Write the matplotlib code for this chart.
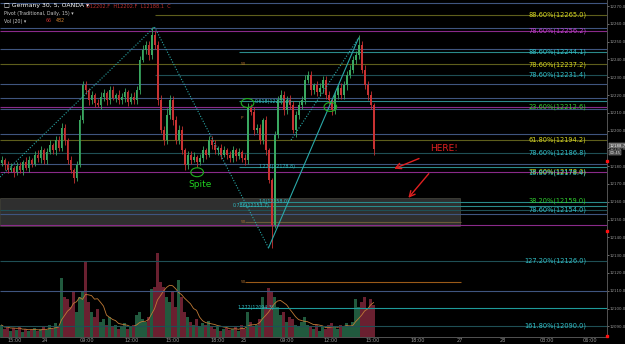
import numpy as np
import pandas as pd
import matplotlib
matplotlib.use("Agg")
import matplotlib.pyplot as plt
from matplotlib.patches import Ellipse, Rectangle

# 5-minute candles, Germany 30
first_open = 12182.0
closes = [
    12183.5, 12180.7, 12177.9, 12179.0, 12176.8, 12180.1, 12177.9, 12182.4, 12179.0, 12183.5,
    12181.3, 12186.3, 12184.6, 12189.1, 12183.5, 12188.0, 12191.9, 12189.1, 12194.7, 12190.3,
    12201.5, 12194.7, 12183.5, 12177.9, 12173.4, 12180.7, 12206.0, 12225.6, 12222.8, 12217.2,
    12220.0, 12215.5, 12214.4, 12218.9, 12221.2, 12217.2, 12222.8, 12218.3, 12220.0, 12217.2,
    12218.9, 12221.7, 12216.1, 12218.9, 12217.2, 12222.8, 12239.7, 12245.3, 12248.1, 12242.5,
    12253.7, 12248.1, 12217.2, 12200.4, 12194.7, 12208.8, 12217.2, 12206.0, 12194.7, 12200.4,
    12189.1, 12180.7, 12186.3, 12183.5, 12185.2, 12182.4, 12184.6, 12189.1, 12186.3, 12194.7,
    12191.9, 12189.1, 12190.3, 12186.3, 12189.1, 12186.3, 12184.6, 12189.1, 12185.8, 12188.0,
    12184.6, 12183.5, 12212.7, 12210.5, 12200.4, 12201.5, 12194.7, 12206.0, 12189.1, 12172.3,
    12147.0, 12197.6, 12217.2, 12220.0, 12211.6, 12217.2, 12214.4, 12200.4, 12208.8, 12214.4,
    12217.2, 12228.5, 12231.3, 12222.8, 12225.6, 12221.7, 12224.0, 12228.5, 12220.0, 12217.2,
    12211.6, 12220.0, 12224.0, 12220.0, 12225.6, 12231.3, 12234.1, 12239.7, 12242.5, 12248.1,
    12234.1, 12225.6, 12220.0, 12214.4, 12189.5,
]
wick_up = [
    2, 1, 2, 3, 1, 2, 2, 1, 3, 2, 1, 2, 3, 2, 1, 2, 3, 1, 2, 2,
    3, 2, 1, 2, 1, 2, 3, 2, 2, 1, 2, 1, 2, 3, 2, 1, 2, 2, 1, 3,
    2, 2, 1, 2, 3, 2, 2, 3, 2, 2, 4.5, 2, 2, 3, 2, 4, 3, 2, 2, 3,
    2, 1, 2, 2, 3, 1, 2, 2, 1, 2, 2, 3, 1, 2, 2, 1, 2, 2, 1, 2,
    1, 2, 3, 2, 3, 2, 2, 1, 2, 1, 1, 2, 2, 3, 2, 2, 3, 2, 2, 2,
    2, 3, 2, 2, 1, 2, 3, 2, 2, 2, 1, 2, 2, 3, 2, 2, 3, 2, 2, 5.5,
    2, 3, 2, 2, 1,
]
wick_dn = [
    2, 3, 2, 1, 3, 2, 2, 3, 1, 2, 2, 1, 2, 3, 2, 2, 1, 2, 3, 2,
    2, 3, 2, 2, 3, 2, 1, 2, 2, 3, 2, 2, 1, 2, 2, 3, 2, 1, 2, 2,
    2, 3, 2, 1, 2, 2, 2, 1, 2, 3, 2, 2, 3, 2, 3, 2, 2, 3, 2, 2,
    2, 3, 2, 2, 1, 3, 2, 2, 2, 1, 2, 2, 3, 2, 1, 2, 2, 2, 3, 2,
    2, 3, 2, 2, 3, 2, 2, 2, 3, 2, 13, 2, 2, 2, 3, 2, 2, 2, 4, 2,
    2, 2, 2, 3, 2, 2, 2, 3, 2, 2, 3, 2, 2, 2, 2, 3, 2, 2, 2, 2,
    2, 2, 3, 2, 3,
]
volumes = [
    60, 40, 50, 30, 45, 35, 50, 25, 40, 30, 35, 45, 30, 40, 50, 35, 60, 40, 70, 50,
    295, 200, 190, 150, 225, 125, 200, 225, 375, 175, 125, 100, 140, 75, 90, 60, 100, 50, 60, 40,
    50, 70, 40, 50, 60, 110, 125, 90, 75, 100, 240, 250, 420, 275, 250, 200, 175, 225, 150, 285,
    200, 125, 100, 75, 60, 90, 50, 70, 60, 80, 50, 40, 50, 30, 40, 45, 35, 40, 50, 30,
    60, 40, 125, 75, 50, 60, 90, 200, 150, 245, 225, 200, 150, 110, 125, 75, 100, 90, 60, 50,
    75, 100, 60, 50, 40, 60, 30, 50, 40, 60, 70, 50, 40, 60, 50, 70, 50, 75, 190, 150,
    175, 200, 140, 190, 160,
]

time_ticks = [4.5, 14.5, 28.5, 43.5, 57.2, 72.2, 80.8, 95.2, 109.8, 123.8, 138.8, 152.8, 167.2, 181.8, 196.2]
time_labels = ["15:00", "24", "09:00", "12:00", "15:00", "18:00", "25", "09:00", "12:00",
               "15:00", "18:00", "27", "28", "03:00", "06:00"]

# horizontal pivot / fib levels
level_prices = [12271.8, 12265.0, 12257.6, 12256.2, 12245.8, 12244.1, 12237.2, 12231.4, 12226.2,
                12218.3, 12216.6, 12213.3, 12212.1, 12198.1, 12194.7, 12187.4, 12181.2, 12179.6,
                12176.7, 12159.9, 12157.8, 12155.4, 12153.0, 12148.7, 12147.0, 12126.7, 12115.0,
                12109.9, 12100.3, 12090.2]
level_kinds = ["blue", "olive", "blue", "purple", "blue", "teal", "olive", "dteal", "blue",
               "blue", "teal", "purple", "blue", "blue", "olive", "dteal", "blue", "teal",
               "purple", "teal", "teal", "dteal", "blue", "brown", "purple", "dteal", "orange",
               "blue", "bteal", "dteal"]

right_labels = ["88.60%(12265.0)", "78.60%(12256.2)", "88.60%(12244.1)", "78.60%(12237.2)",
                "78.60%(12231.4)", "23.60%(12212.6)", "61.80%(12194.2)", "78.60%(12186.8)",
                "78.60%(12178.0)", "16.80%(12178.4)", "38.20%(12159.0)", "78.60%(12154.0)",
                "127.20%(12126.0)", "161.80%(12090.0)"]
right_label_prices = [12265.0, 12256.2, 12244.1, 12237.2, 12231.4, 12213.4, 12194.7, 12187.4,
                      12176.9, 12176.5, 12160.8, 12155.4, 12126.7, 12090.2]
right_label_kinds = ["yellow", "purple", "teal", "yellow", "teal", "green", "yellow", "teal",
                     "yellow", "teal", "green", "teal", "teal", "teal"]

line_col = {"blue": "#3f557f", "olive": "#5e5e1c", "purple": "#8a2a8a", "teal": "#2a8a8a",
            "dteal": "#1f4f55", "brown": "#6a5a3a", "orange": "#9a5a18", "bteal": "#1e9a9a"}
text_col = {"yellow": "#d8d820", "purple": "#c040d0", "teal": "#30c0c8", "green": "#30d030"}

n = len(closes)
idx = np.arange(n)
opens = [first_open] + closes[:-1]
df = pd.DataFrame({"open": opens, "close": closes, "up": wick_up, "dn": wick_dn, "vol": volumes})
df["high"] = df[["open", "close"]].max(axis=1) + df["up"]
df["low"] = df[["open", "close"]].min(axis=1) - df["dn"]
rising = df["close"] >= df["open"]
df["vol_ma"] = df["vol"].rolling(7, min_periods=1).mean()

fig = plt.figure(figsize=(6.25, 3.44), dpi=100, facecolor="black")
ax_v = fig.add_axes([0, 7 / 344, 607 / 625, 337 / 344])
ax = fig.add_axes([0, 7 / 344, 607 / 625, 337 / 344], sharex=ax_v)
ax.set_zorder(2)
ax.patch.set_visible(False)
ax_v.set_facecolor("black")

# volume
vcol = np.where(rising, "#215a3e", "#6a2030")
ax_v.bar(idx, df["vol"], width=0.72, color=vcol, zorder=1)
ax_v.plot(idx, df["vol_ma"], color="#c07a35", lw=0.6, zorder=2)
ax_v.set_ylim(0, 1685)
ax_v.set_yticks([])
for s in ax_v.spines.values():
    s.set_visible(False)
ax_v.tick_params(axis="x", length=0, labelbottom=False)

xmax = 201.8
ax.set_xlim(-0.5, xmax)
ax.set_ylim(12084.0, 12273.4)

# gray zone
ax.add_patch(Rectangle((-0.5, 12146.4), 153.2, 15.7, facecolor="#505050", alpha=0.6,
                       edgecolor="#6a6a5a", lw=0.5, zorder=1))

# levels
for p, k in zip(level_prices, level_kinds):
    x0, x1 = -0.5, xmax
    if k in ("teal", "bteal"):
        x0 = 79
    if k == "dteal" and p == 12231.4:
        x0 = 51
    if k in ("brown", "orange"):
        x0, x1 = 81, 153
    if p == 12265.0:
        x0 = 51
    ax.hlines(p, x0, x1, color=line_col[k], lw=0.8, zorder=2)

# candles
ccol = np.where(rising, "#3aa860", "#c83232")
ax.vlines(idx, df["low"], df["high"], color=ccol, lw=0.6, zorder=4)
ax.bar(idx, (df["close"] - df["open"]).abs().clip(lower=0.3), bottom=df[["open", "close"]].min(axis=1),
       width=0.65, color=ccol, zorder=5)

# trend lines
tl = "#2aa8a8"
ax.plot([-0.5, 51], [12173.9, 12258.2], ls=(0, (1, 1.5)), color=tl, lw=0.8, zorder=6)
ax.plot([51, 89], [12258.2, 12134.1], ls=(0, (1, 1.5)), color=tl, lw=0.8, zorder=6)
ax.plot([89, 119], [12134.1, 12252.0], color=tl, lw=0.8, zorder=6)
ax.plot([96.5, 119], [12194.7, 12252.0], ls=(0, (1, 1.5)), color=tl, lw=0.8, zorder=6)

# circles
for cx, cy in [(65.2, 12176.6), (82.0, 12215.5), (109.6, 12213.3)]:
    ax.add_patch(Ellipse((cx, cy), 4.2, 5.0, fill=False, edgecolor="#20b020", lw=0.8, zorder=7))
ax.text(66.2, 12169.5, "Spite", color="#20d020", fontsize=6.5, ha="center", va="center", zorder=7)

ax.text(147.5, 12190.2, "HERE!", color="#e02020", fontsize=6.5, ha="center", va="center", zorder=7)
ax.annotate("", xy=(130, 12178.0), xytext=(140, 12184.9),
            arrowprops=dict(arrowstyle="->", color="#e02020", lw=1.0), zorder=7)
ax.annotate("", xy=(135, 12161.0), xytext=(143, 12177.0),
            arrowprops=dict(arrowstyle="->", color="#e02020", lw=1.0), zorder=7)

# fib labels on the right
for t, p, k in zip(right_labels, right_label_prices, right_label_kinds):
    ax.text(195.0, p, t, color=text_col[k], fontsize=4.8, ha="right", va="center", zorder=8)

small = [("0.618(12217.2)", 84.5, 12216.6), ("1.272(12178.8)", 85.5, 12179.6),
         ("1.0(12158.0)", 85.5, 12159.9), ("0.786(12153.7)", 77.0, 12157.8),
         ("1.272(12094.3)", 78.5, 12100.3)]
for t, x, p in small:
    ax.text(x, p, t, color="#30b8c0", fontsize=3.4, ha="left", va="center", zorder=8)
for p in [12237.2, 12148.7, 12115.0]:
    ax.text(79.8, p, "50", color="#b07030", fontsize=3.0, ha="left", va="center", zorder=8)
ax.text(79.8, 12207.1, "P", color="#b07030", fontsize=3.0, ha="left", va="center", zorder=8)

# axes styling
ax.yaxis.tick_right()
yt = np.arange(12090, 12271, 10)
ax.set_yticks(yt)
ax.set_yticklabels([f"{v:.1f}" for v in yt])
ax.set_xticks(time_ticks)
ax.set_xticklabels(time_labels)
ax.tick_params(axis="y", colors="#9a9a9a", labelsize=2.8, length=1.5, pad=0.5, width=0.5)
ax.tick_params(axis="x", colors="#9a9a9a", labelsize=3.6, length=0, pad=1)
for s in ["top", "left"]:
    ax.spines[s].set_visible(False)
ax.spines["right"].set_color("#606060")
ax.spines["bottom"].set_color("#606060")
ax.spines["right"].set_linewidth(0.6)
ax.spines["bottom"].set_linewidth(0.6)

# price box and markers on the scale
yax = ax.get_yaxis_transform()
ax.text(1.004, 12191.5, "12188.7", transform=yax, color="white", fontsize=2.8, va="center",
        ha="left", bbox=dict(boxstyle="square,pad=0.15", fc="#5a5a5a", ec="#c0c0c0", lw=0.3),
        clip_on=False, zorder=9)
ax.text(1.004, 12187.6, "00:45", transform=yax, color="white", fontsize=2.8, va="center",
        ha="left", bbox=dict(boxstyle="square,pad=0.15", fc="#3a3a3a", ec="#c0c0c0", lw=0.3),
        clip_on=False, zorder=9)
for p in [12182.9, 12143.6, 12084.6]:
    ax.plot([1.0], [p], transform=yax, marker="s", color="#ff1010", ms=2.0, clip_on=False, zorder=9)

# header
fig.text(4 / 625, 1 - 6 / 344, "\u25a1 Germany 30, 5, OANDA \u25be", color="white", fontsize=4.4, va="center")
fig.text(86 / 625, 1 - 6 / 344, "O12202.F  H12202.F  L12188.1  C", color="#c03030", fontsize=3.6, va="center")
fig.text(4 / 625, 1 - 14 / 344, "Pivot (Traditional, Daily, 15) \u25be", color="#c8c8c8", fontsize=3.4, va="center")
fig.text(4 / 625, 1 - 21 / 344, "Vol (20) \u25be", color="#c8c8c8", fontsize=3.4, va="center")
fig.text(46 / 625, 1 - 21 / 344, "66", color="#c03030", fontsize=3.4, va="center")
fig.text(56 / 625, 1 - 21 / 344, "482", color="#d08030", fontsize=3.4, va="center")

fig.savefig("out.png", dpi=100, facecolor="black")
